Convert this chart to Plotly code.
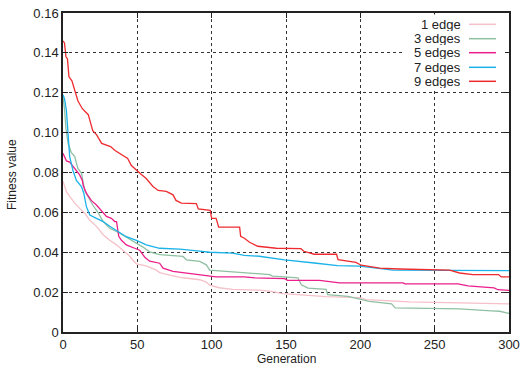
import plotly.graph_objects as go

# ---- data ----
series_names = ["1 edge", "3 edges", "5 edges", "7 edges", "9 edges"]
series_colors = ["#f5c0c8", "#8fc0a3", "#ea1f8c", "#1ab2e8", "#ee2b2f"]

gen_1 = [0, 2.3, 4.5, 7.9, 11.2, 14.6, 18, 22.5, 27, 31.4, 36, 40.4, 44.9, 47, 49.4, 56, 62.8,
         65, 71.8, 80.7, 92, 96.4, 98.7, 105, 114, 132, 140, 148, 167, 177, 199.5, 204, 233, 267, 300]
fit_1 = [0.0756, 0.0704, 0.068, 0.0646, 0.062, 0.0596, 0.056, 0.053, 0.0488, 0.046, 0.0437, 0.041,
         0.038, 0.036, 0.0342, 0.0332, 0.031, 0.0298, 0.0285, 0.0272, 0.0262, 0.025, 0.0235, 0.0222,
         0.0214, 0.021, 0.0204, 0.0192, 0.0184, 0.0177, 0.0172, 0.0162, 0.0151, 0.0146, 0.0141]

gen_3 = [0, 1, 2, 3.4, 5.6, 7.9, 10, 12.4, 14.6, 18, 20, 23.5, 27, 31.4, 36, 41.5, 47, 53.8, 58.3,
         65, 80.7, 83, 92, 96.4, 98.7, 108.7, 122, 139, 141, 158, 160.3, 164.8, 177, 178, 191.7,
         206, 221, 223.5, 267, 278, 288, 293.7, 300]
fit_3 = [0.118, 0.112, 0.102, 0.0946, 0.09, 0.088, 0.082, 0.0797, 0.071, 0.066, 0.0637, 0.06,
         0.0554, 0.052, 0.0504, 0.048, 0.0456, 0.0426, 0.0402, 0.0388, 0.0379, 0.0362, 0.0354,
         0.0337, 0.031, 0.0304, 0.0296, 0.0288, 0.028, 0.0272, 0.0237, 0.022, 0.0214, 0.0187,
         0.0179, 0.0154, 0.0141, 0.0121, 0.0116, 0.0109, 0.0106, 0.0104, 0.0093]

gen_5 = [0, 2.3, 4.5, 6.7, 9, 11.2, 13, 13.5, 15.7, 19, 22.5, 25.8, 29.2, 32.5, 34.8, 36, 37.5,
         39.3, 42.6, 48.2, 51.6, 55, 58.3, 65, 67.3, 74, 78.5, 83, 89.7, 98.7, 103, 122, 129, 149,
         151, 172.6, 186, 228.7, 230, 265.7, 272.4, 290, 292.5, 300]
fit_5 = [0.0896, 0.0858, 0.0852, 0.083, 0.0806, 0.0788, 0.076, 0.0737, 0.0696, 0.066, 0.0637,
         0.061, 0.058, 0.057, 0.0554, 0.0554, 0.048, 0.046, 0.0437, 0.042, 0.041, 0.0375, 0.0355,
         0.0345, 0.032, 0.0304, 0.03, 0.0296, 0.0288, 0.0281, 0.0276, 0.0276, 0.0271, 0.0268,
         0.0259, 0.0259, 0.0246, 0.0246, 0.0241, 0.0241, 0.0231, 0.0221, 0.0212, 0.0209]

gen_7 = [0, 1, 2.3, 3.4, 4.5, 6.7, 9, 12.4, 14, 15.7, 17, 18, 22.5, 27, 31.4, 37, 42.6, 49.4,
         56, 65, 78.5, 92, 98.7, 114, 122, 132, 149, 169, 184.7, 199.5, 222, 300]
fit_7 = [0.119, 0.117, 0.111, 0.1, 0.088, 0.081, 0.076, 0.073, 0.0696, 0.063, 0.061, 0.0587,
         0.057, 0.0554, 0.053, 0.0504, 0.0478, 0.046, 0.0437, 0.042, 0.0416, 0.0406, 0.04,
         0.0396, 0.0384, 0.038, 0.0362, 0.0346, 0.0333, 0.033, 0.031, 0.0308]

gen_9 = [0, 1, 2, 3, 4, 6, 8, 10, 13, 17, 20, 22.5, 26, 32, 35, 39, 43.5, 46, 49.5, 52.7, 56,
         60.5, 64, 69.5, 74, 76, 79.6, 89.7, 91, 99, 100, 103, 104.7, 118.8, 119.5, 122, 125.5,
         131, 143.5, 160, 162, 169, 184, 185, 197, 200.6, 213, 226.4, 260, 266.8, 275.7, 293,
         294.8, 300]
fit_9 = [0.146, 0.145, 0.138, 0.137, 0.128, 0.126, 0.121, 0.116, 0.112, 0.109, 0.101, 0.099,
         0.0946, 0.093, 0.091, 0.089, 0.087, 0.0835, 0.081, 0.079, 0.077, 0.073, 0.071, 0.0705,
         0.0688, 0.066, 0.0646, 0.0644, 0.0617, 0.061, 0.057, 0.057, 0.0526, 0.0526, 0.048,
         0.047, 0.045, 0.043, 0.042, 0.0418, 0.0405, 0.039, 0.039, 0.0363, 0.0349, 0.0335,
         0.032, 0.0316, 0.031, 0.0296, 0.0288, 0.0288, 0.0276, 0.0276]

x_ticks = [0, 50, 100, 150, 200, 250, 300]
y_ticks = [0, 0.02, 0.04, 0.06, 0.08, 0.10, 0.12, 0.14, 0.16]
y_tick_text = ["0", "0.02", "0.04", "0.06", "0.08", "0.10", "0.12", "0.14", "0.16"]

xs = [gen_1, gen_3, gen_5, gen_7, gen_9]
ys = [fit_1, fit_3, fit_5, fit_7, fit_9]

FONT = "Liberation Sans, Arial, sans-serif"
TXT = "#222222"

fig = go.Figure()
for name, col, gx, fy in zip(series_names, series_colors, xs, ys):
    fig.add_trace(go.Scatter(x=gx, y=fy, mode="lines", name=name,
                             line=dict(color=col, width=1.3), showlegend=False))

# plot-area geometry in page pixels
W, H = 521, 373
L, R, T, B = 63, 509, 13, 332
def px_x(p):
    return (p - L) / (R - L)
def px_y(p):
    return (B - p) / (B - T)

shapes = [dict(type="rect", xref="paper", yref="paper", layer="above",
               x0=px_x(403), x1=px_x(505), y0=px_y(88), y1=px_y(14.5),
               fillcolor="white", line=dict(width=0))]
annotations = []
legend_rows = [24.3, 38.7, 52.7, 67.3, 81.3]
for name, col, ry in zip(series_names, series_colors, legend_rows):
    annotations.append(dict(xref="paper", yref="paper", x=px_x(462), y=px_y(ry),
                            xanchor="right", yanchor="middle", text=name, showarrow=False,
                            height=13, borderpad=0,
                            font=dict(family=FONT, size=13, color=TXT)))
    shapes.append(dict(type="line", xref="paper", yref="paper", layer="above",
                       x0=px_x(469), x1=px_x(496), y0=px_y(ry), y1=px_y(ry),
                       line=dict(color=col, width=1.5)))

annotations.append(dict(xref="paper", yref="paper", x=px_x(286.5), y=px_y(359),
                        xanchor="center", yanchor="middle", text="Generation", showarrow=False,
                        font=dict(family=FONT, size=12, color=TXT)))
annotations.append(dict(xref="paper", yref="paper", x=px_x(12), y=px_y(175),
                        xanchor="center", yanchor="middle", text="Fitness value", showarrow=False,
                        textangle=-90, font=dict(family=FONT, size=12, color=TXT)))

axis_common = dict(showline=True, linecolor="#222222", linewidth=1.5, mirror="allticks",
                   ticks="inside", ticklen=5, tickcolor="#222222", tickwidth=1,
                   showgrid=True, gridcolor="#333333", gridwidth=1, griddash="3px,3px",
                   zeroline=False, automargin=False,
                   tickfont=dict(family=FONT, size=13, color=TXT))

fig.update_layout(
    width=W, height=H,
    margin=dict(l=L, r=W - R, t=T, b=H - B, autoexpand=False),
    paper_bgcolor="white", plot_bgcolor="white",
    xaxis=dict(range=[0, 300], tickvals=x_ticks, **axis_common),
    yaxis=dict(range=[0, 0.16], tickvals=y_ticks, ticktext=y_tick_text, **axis_common),
    shapes=shapes, annotations=annotations, showlegend=False,
)

fig.write_html("out.html", config={"displayModeBar": False},
               post_script="document.body.style.margin='0px';")
